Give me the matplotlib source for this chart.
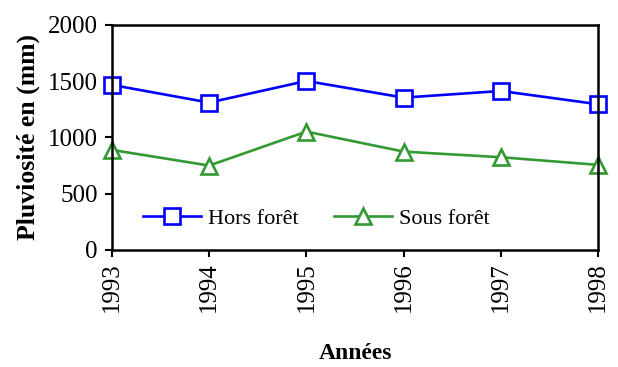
import matplotlib.pyplot as plt

annees = [1993, 1994, 1995, 1996, 1997, 1998]
hors_foret = [1467, 1310, 1502, 1354, 1413, 1295]
sous_foret = [889, 750, 1052, 874, 824, 756]

plt.rcParams['font.family'] = ['Liberation Serif', 'DejaVu Serif']

fig = plt.figure(figsize=(6.18, 3.67), dpi=100)
ax = fig.add_axes([0.181, 0.319, 0.787, 0.613])

ax.plot(annees, hors_foret, color='#0000ff', lw=1.9, marker='s', ms=11,
        mfc='white', mec='#0000ff', mew=1.9, label='Hors forêt')
ax.plot(annees, sous_foret, color='#339933', lw=1.9, marker='^', ms=12,
        mfc='white', mec='#339933', mew=1.9, label='Sous forêt')

ax.set_xlim(1993, 1998)
ax.set_ylim(0, 2000)
ax.set_xticks(annees)
ax.set_xticklabels([str(a) for a in annees], rotation=90)
ax.set_yticks([0, 500, 1000, 1500, 2000])
ax.tick_params(axis='both', labelsize=18, direction='out', length=5, width=1.5)
ax.tick_params(axis='y', pad=5)
ax.tick_params(axis='x', pad=4)
for s in ax.spines.values():
    s.set_linewidth(1.8)
for m in ax.get_lines():
    m.set_clip_on(False)

ax.set_ylabel('Pluviosité en (mm)', fontsize=18.5, fontweight='bold', labelpad=6)
ax.set_xlabel('Années', fontsize=17, fontweight='bold', labelpad=22)

ax.legend(loc='center left', bbox_to_anchor=(0.065, 0.14), ncol=2, frameon=False,
          fontsize=16, handlelength=2.6, handletextpad=0.3, columnspacing=1.6,
          borderaxespad=0, borderpad=0)

fig.savefig('out.png', dpi=100)
